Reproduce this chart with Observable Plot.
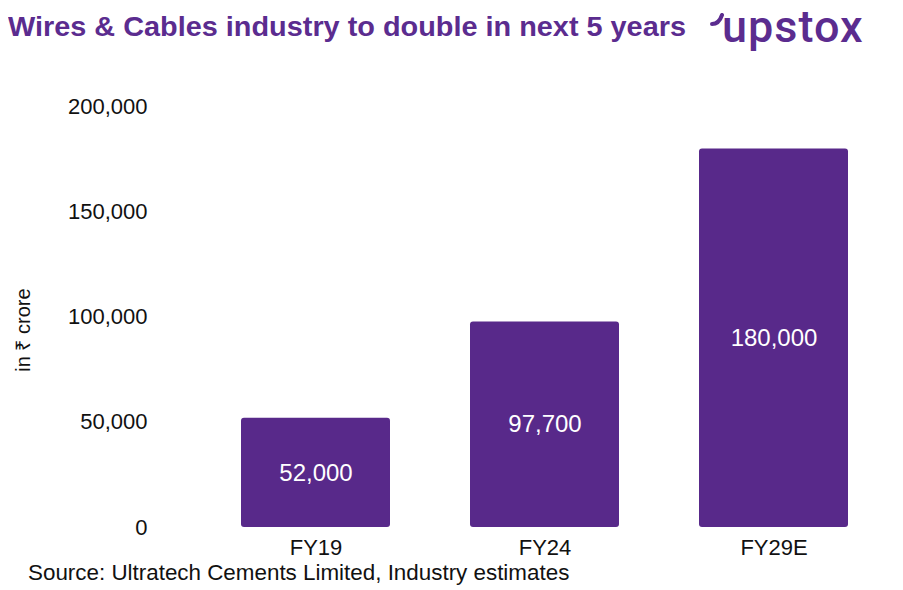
<!DOCTYPE html>
<html>
<head>
<meta charset="utf-8">
<script src="https://cdn.jsdelivr.net/npm/d3@7"></script>
<script src="https://cdn.jsdelivr.net/npm/@observablehq/plot@0.6"></script>
<style>
  html, body { margin: 0; padding: 0; background: #fff; }
  #wrap { position: relative; width: 903px; height: 590px; overflow: hidden; font-family: "Liberation Sans", Arial, sans-serif; }
  #title { position: absolute; left: 8px; top: 10px; font-family: "Liberation Sans", Arial, sans-serif; font-weight: 700; font-size: 28px; line-height: 34px; color: #5b2c8f; white-space: nowrap; transform-origin: 0 0; }
  #logo { position: absolute; left: 722px; top: 0px; font-family: Roboto, sans-serif; font-weight: 500; font-size: 45px; line-height: normal; color: #5b2c8f; letter-spacing: 1px; white-space: nowrap; }
  #tail { position: absolute; left: 710px; top: 13px; }
  #ylabel { position: absolute; left: 22px; top: 330px; transform: translate(-50%, -50%) rotate(-90deg); font-size: 20px; color: #111; white-space: nowrap; }
  #chart { position: absolute; left: 0; top: 80px; }
  #caption { position: absolute; left: 28px; top: 564px; font-size: 22.4px; line-height: 18px; color: #111; white-space: nowrap; }
</style>
</head>
<body>
<div id="wrap">
  <div id="title"></div>
  <svg id="tail" width="16" height="14"><path d="M2,11 C6,11 10,8 12,2" fill="none" stroke="#5b2c8f" stroke-width="4" stroke-linecap="round"/></svg>
  <div id="logo"></div>
  <div id="ylabel"></div>
  <div id="chart"></div>
  <div id="caption"></div>
</div>
<script>
const titleText = "Wires & Cables industry to double in next 5 years";
const logoText = "upstox";
const yLabel = "in ₹ crore";
const captionText = "Source: Ultratech Cements Limited, Industry estimates";
const categories = ["FY19", "FY24", "FY29E"];
const values = [52000, 97700, 180000];
const yTicks = [0, 50000, 100000, 150000, 200000];
const barColor = "#58298a";

const titleEl = document.getElementById("title");
titleEl.textContent = titleText;
document.getElementById("logo").textContent = logoText;
document.getElementById("ylabel").textContent = yLabel;
document.getElementById("caption").textContent = captionText;

// fit title to reference width (8 -> 686)
const tw = titleEl.getBoundingClientRect().width;
if (tw > 0) titleEl.style.transform = `scaleX(${678 / tw})`;

const data = categories.map((c, i) => ({cat: c, value: values[i]}));
const fmt = d3.format(",");

const chart = Plot.plot({
  width: 903,
  height: 480,
  marginLeft: 217,
  marginRight: 31,
  marginTop: 26.5,
  marginBottom: 33,
  style: {fontFamily: "'Liberation Sans', Arial, sans-serif", fontSize: "22px", color: "#111", background: "transparent", overflow: "visible"},
  x: {domain: categories, paddingInner: 0.348, paddingOuter: 0.1, tickSize: 0, tickPadding: 12, label: null},
  y: {domain: [0, 200000], ticks: yTicks, tickFormat: fmt, tickSize: 0, tickPadding: 70, label: null},
  marks: [
    Plot.barY(data, {x: "cat", y: "value", fill: barColor, rx: 3}),
    Plot.text(data, {x: "cat", y: d => d.value / 2, text: d => fmt(d.value), fill: "white", fontSize: 24})
  ]
});
document.getElementById("chart").appendChild(chart);
</script>
</body>
</html>
